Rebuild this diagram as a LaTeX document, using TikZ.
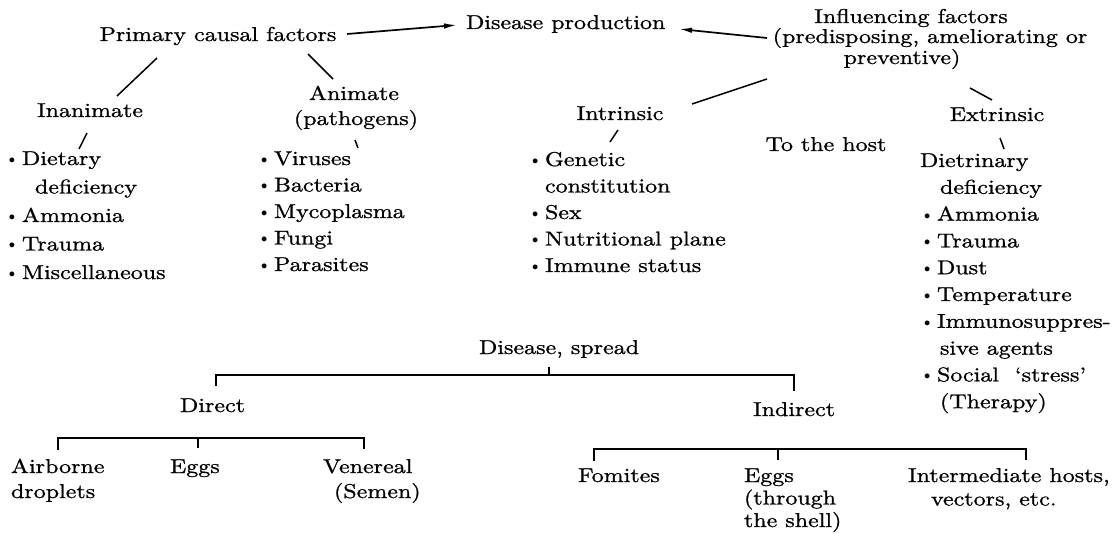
\documentclass[tikz,border=0pt]{standalone}
\usepackage{fontspec}
\usepackage{graphicx}
\setmainfont{lmroman10-regular.otf}[FakeStretch=1.2,FakeBold=1]
\usetikzlibrary{arrows.meta}
\newcommand\mybul{\makebox[13pt][l]{\raisebox{1.5pt}{\scalebox{0.6}{$\bullet$}}}}
\newcommand\mylist[2][27]{{\fontsize{20}{#1}\selectfont\begin{tabular}[t]{@{}l@{}}#2\end{tabular}}}
\begin{document}
\begin{tikzpicture}[x=1pt,y=-1pt,
  every node/.style={inner sep=0pt,outer sep=0pt,font=\fontsize{20}{27}\selectfont},
  conn/.style={line width=1.5pt},
  brk/.style={line width=1.4pt},
  arr/.style={line width=1.7pt,-{Latex[length=13pt,width=5.5pt]}}]
\fill[white] (0,0) rectangle (1118,534);
\useasboundingbox (0,0) rectangle (1118,534);

% top level
\node[anchor=base] (prim) at (218,41) {Primary causal factors};
\node[anchor=base west] (dis) at (466,29) {Disease production};
\node[anchor=base] (inf1) at (911,23) {Influencing factors};
\node[anchor=base] (inf2) at (930,43) {(predisposing, ameliorating or};
\node[anchor=base] (inf3) at (902,64) {preventive)};

\coordinate (a1s) at (347,34); \coordinate (a1e) at (457,25);
\coordinate (a2s) at (767,38); \coordinate (a2e) at (679,29);
\draw[arr] (a1s) -- (a1e);
\draw[arr] (a2s) -- (a2e);

% second level
\node[anchor=base] (inan) at (90,117) {Inanimate};
\node[anchor=base] (anim) at (354,100) {Animate};
\node[anchor=base] (path) at (356,125) {(pathogens)};
\node[anchor=base] (intr) at (620,120) {Intrinsic};
\node[anchor=base] (extr) at (997,121) {Extrinsic};
\node[anchor=base] (host) at (826,151) {To the host};

\coordinate (p1) at (157,58); \coordinate (p2) at (117,96);
\coordinate (p3) at (308,54); \coordinate (p4) at (333,79);
\coordinate (i1) at (767,79); \coordinate (i2) at (692,104);
\coordinate (e1) at (970,88); \coordinate (e2) at (992,100);
\draw[conn] (p1) -- (p2);
\draw[conn] (p3) -- (p4);
\draw[conn] (i1) -- (i2);
\draw[conn] (e1) -- (e2);

\coordinate (t1) at (87,133); \coordinate (t2) at (79,149);
\coordinate (t3) at (355,140); \coordinate (t4) at (358,148);
\coordinate (t5) at (618,130); \coordinate (t6) at (610,142);
\coordinate (t7) at (1000,138); \coordinate (t8) at (1004,149);
\draw[conn] (t1) -- (t2);
\draw[conn] (t3) -- (t4);
\draw[conn] (t5) -- (t6);
\draw[conn] (t7) -- (t8);

% lists
\node[anchor=base west] (lista) at (9,165) {\mylist[28.5]{\mybul Dietary\\ \hspace{26pt}deficiency\\ \mybul Ammonia\\ \mybul Trauma\\ \mybul Miscellaneous}};
\node[anchor=base west] (listb) at (261,165) {\mylist[26.5]{\mybul Viruses\\ \mybul Bacteria\\ \mybul Mycoplasma\\ \mybul Fungi\\ \mybul Parasites}};
\node[anchor=base west] (listc) at (532,166) {\mylist[26.5]{\mybul Genetic\\ \hspace{13pt}constitution\\ \mybul Sex\\ \mybul Nutritional plane\\ \mybul Immune status}};
\node[anchor=base west] (listd) at (924,167) {\mylist[26.8]{\hspace{-4pt}Dietrinary\\ \hspace{16pt}deficiency\\ \mybul Ammonia\\ \mybul Trauma\\ \mybul Dust\\ \mybul Temperature\\ \mybul Immunosuppres-\\ \hspace{16pt}sive agents\\ \mybul Social\ \ ‘stress’\\ \hspace{16pt}(Therapy)}};

% disease spread
\node[anchor=base west] (spread) at (479,354) {Disease, spread};
\node[anchor=base west] (direct) at (180,412) {Direct};
\node[anchor=base west] (indirect) at (753,416) {Indirect};

\coordinate (s0) at (549,367); \coordinate (sm) at (549,375);
\coordinate (sl) at (216,386); \coordinate (slc) at (216,375);
\coordinate (srC) at (794,375); \coordinate (sr) at (794,391);
\draw[brk] (sl) -- (slc) -- (srC) -- (sr);
\draw[brk] (s0) -- (sm);

\coordinate (dl) at (58,450); \coordinate (dlc) at (58,438);
\coordinate (drc) at (364,438); \coordinate (dr) at (364,449);
\coordinate (dt) at (198,438); \coordinate (dm) at (198,448);
\draw[brk] (dl) -- (dlc) -- (drc) -- (dr);
\draw[brk] (dt) -- (dm);

\coordinate (nl) at (594,461); \coordinate (nlc) at (594,449);
\coordinate (nrc) at (1026,449); \coordinate (nr) at (1026,460);
\coordinate (nt) at (778,449); \coordinate (nm) at (778,460);
\draw[brk] (nl) -- (nlc) -- (nrc) -- (nr);
\draw[brk] (nt) -- (nm);

\node[anchor=base west] (air) at (11,473) {\mylist[25]{Airborne\\ droplets}};
\node[anchor=base west] (eggs1) at (170,473) {Eggs};
\node[anchor=base west] (ven) at (323,473) {\mylist[25]{Venereal\\ \hspace{11pt}(Semen)}};
\node[anchor=base west] (fom) at (578,482) {Fomites};
\node[anchor=base west] (eggs2) at (744,482) {\mylist[22.5]{Eggs\\ (through\\ the shell)}};
\node[anchor=base west] (interm) at (908,482) {\mylist[23.5]{Intermediate hosts,\\ \hspace{23pt}vectors, etc.}};
\end{tikzpicture}
\end{document}
